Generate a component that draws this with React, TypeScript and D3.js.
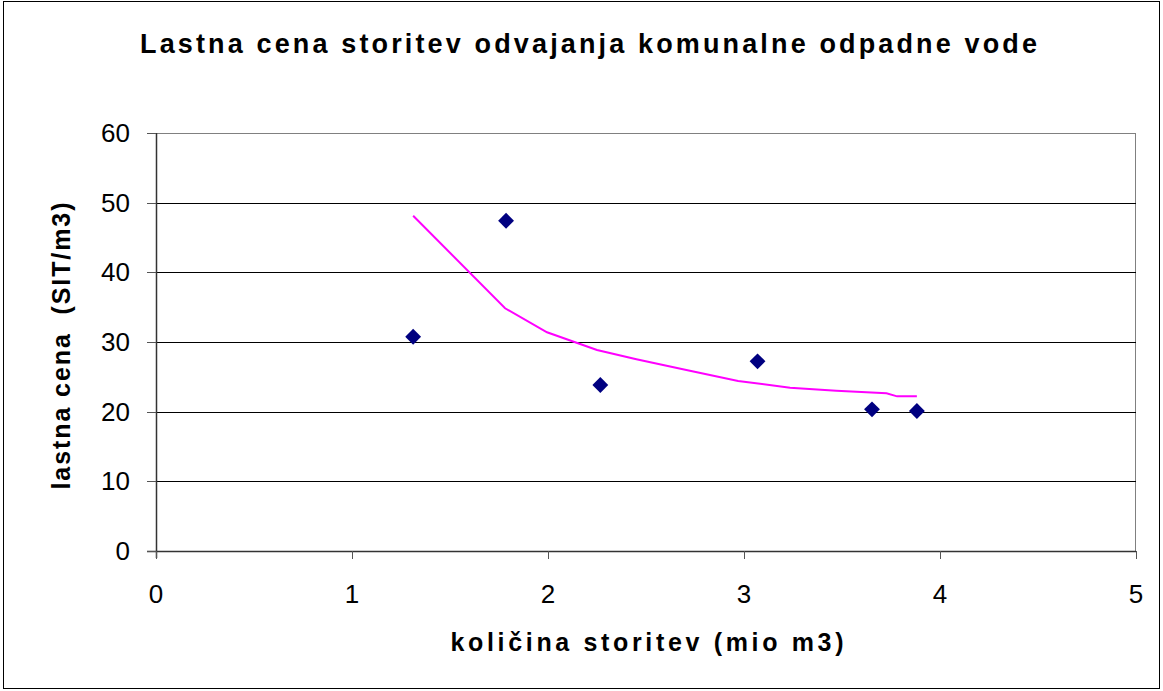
import React from "react";
import * as d3 from "d3";

const pointX = [1.312, 1.786, 2.267, 3.069, 3.653, 3.882];
const pointY = [30.76, 47.41, 23.83, 27.23, 20.34, 20.09];

const trendX = [1.312, 1.781, 1.995, 2.25, 2.451, 2.706, 2.97, 3.235, 3.471, 3.727, 3.781, 3.882];
const trendY = [48.13, 34.84, 31.39, 28.85, 27.52, 25.98, 24.4, 23.44, 23.01, 22.64, 22.2, 22.2];

const xTicks = [0, 1, 2, 3, 4, 5];
const yTicks = [0, 10, 20, 30, 40, 50, 60];

const title = "Lastna cena storitev odvajanja komunalne odpadne vode";
const xTitle = "količina storitev (mio m3)";
const yTitle = "lastna cena  (SIT/m3)";

export default function App() {
  const W = 1163, H = 691;
  const left = 156, right = 1136, top = 133, bottom = 551;
  const x = d3.scaleLinear().domain([0, 5]).range([left, right]);
  const y = d3.scaleLinear().domain([0, 60]).range([bottom, top]);
  const line = d3.line<number>().x((_, i) => x(trendX[i])).y((_, i) => y(trendY[i]));
  const font = "'Liberation Sans', Arial, sans-serif";
  const diamond = d3.symbol().type(d3.symbolDiamond2 || d3.symbolDiamond).size(160)();

  return (
    <svg width={W} height={H} style={{ position: "absolute", left: 0, top: 0, background: "#fff" }} fontFamily={font}>
      <rect x={0} y={0} width={W} height={H} fill="#fff" />
      <rect x={3.5} y={1.5} width={1156} height={687} fill="none" stroke="#000" strokeWidth={1} />
      <text x={588.5} y={53} textAnchor="middle" fontSize={27} fontWeight="bold" textLength={897} lengthAdjust="spacing">{title}</text>
      {/* plot frame */}
      <line x1={left} x2={right} y1={top + 0.5} y2={top + 0.5} stroke="#808080" />
      <line x1={right - 0.5} x2={right - 0.5} y1={top} y2={bottom} stroke="#808080" />
      {yTicks.filter(t => t > 0 && t < 60).map(t => (
        <line key={"g" + t} x1={left} x2={right} y1={Math.round(y(t)) + 0.5} y2={Math.round(y(t)) + 0.5} stroke="#000" strokeWidth={1} />
      ))}
      {/* axes */}
      <line x1={left + 0.5} x2={left + 0.5} y1={top} y2={bottom + 7} stroke="#333" strokeWidth={1.5} />
      <line x1={left - 9} x2={right} y1={bottom + 0.5} y2={bottom + 0.5} stroke="#333" strokeWidth={1.5} />
      {yTicks.map(t => (
        <g key={"y" + t}>
          <line x1={left - 9} x2={left} y1={Math.round(y(t)) + 0.5} y2={Math.round(y(t)) + 0.5} stroke="#555" />
          <text x={130} y={y(t) + 9} textAnchor="end" fontSize={26}>{t}</text>
        </g>
      ))}
      {xTicks.map(t => (
        <g key={"x" + t}>
          <line x1={Math.round(x(t)) + 0.5} x2={Math.round(x(t)) + 0.5} y1={bottom} y2={bottom + 8} stroke="#555" />
          <text x={x(t)} y={603} textAnchor="middle" fontSize={26}>{t}</text>
        </g>
      ))}
      <text x={647} y={651} textAnchor="middle" fontSize={25} fontWeight="bold" textLength={393} lengthAdjust="spacing">{xTitle}</text>
      <text transform={`translate(70, 346) rotate(-90)`} textAnchor="middle" fontSize={25} fontWeight="bold" textLength={287} lengthAdjust="spacing" style={{ whiteSpace: "pre" }}>{yTitle}</text>
      <path d={line(trendX) || ""} fill="none" stroke="#FF00FF" strokeWidth={2} />
      {pointX.map((px, i) => (
        <path key={"p" + i} d={diamond || ""} transform={`translate(${x(px)},${y(pointY[i])})`} fill="#000080" />
      ))}
    </svg>
  );
}
